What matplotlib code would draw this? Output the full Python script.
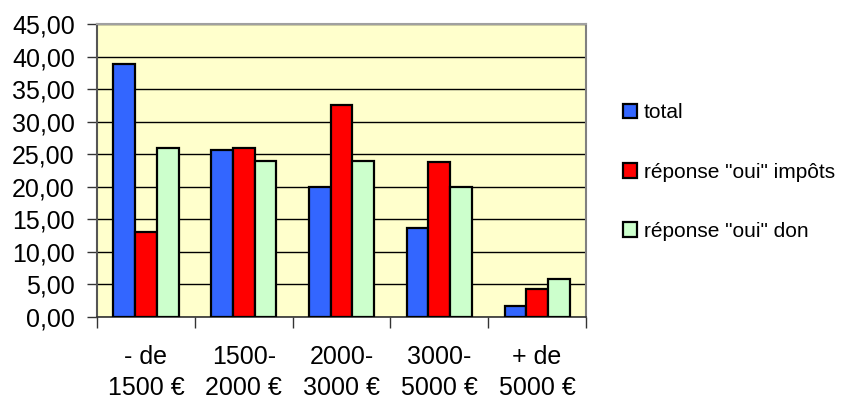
import matplotlib
matplotlib.use("Agg")
import matplotlib.pyplot as plt
from matplotlib.patches import Rectangle
import numpy as np

plt.rcParams['font.family'] = ['Liberation Sans', 'DejaVu Sans']

categories = ["- de\n1500 €", "1500-\n2000 €", "2000-\n3000 €", "3000-\n5000 €", "+ de\n5000 €"]
total = [38.8, 25.6, 20.0, 13.6, 1.7]
oui_impots = [13.0, 26.0, 32.5, 23.8, 4.3]
oui_don = [26.0, 23.9, 24.0, 20.0, 5.9]

series_names = ["total", 'réponse "oui" impôts', 'réponse "oui" don']
series_values = [total, oui_impots, oui_don]
series_colors = ["#3366FF", "#FF0000", "#CCFFCC"]

fig = plt.figure(figsize=(8.41, 3.96), dpi=100)
ax = fig.add_axes([97 / 841, 1 - 317 / 396, (586 - 97) / 841, (317 - 24) / 396])
ax.set_facecolor("#FFFFCC")

x = np.arange(len(categories))
w = 1 / 4.5
for i, (vals, col) in enumerate(zip(series_values, series_colors)):
    ax.bar(x + (i - 1) * w, vals, width=w, color=col, edgecolor="black",
           linewidth=1.6, zorder=3)

ax.set_xlim(-0.5, len(categories) - 0.5)
ax.set_ylim(0, 45)
yt = np.arange(0, 46, 5)
ax.set_yticks(yt)
ax.set_yticklabels([f"{v:.2f}".replace(".", ",") for v in yt], fontsize=18)
ax.yaxis.grid(True, color="black", linewidth=1.0, zorder=1)
ax.tick_params(axis="y", length=7, width=1, color="#333333", pad=9)

ax.set_xticks(x)
ax.set_xticklabels(categories, fontsize=18, linespacing=1.38)
ax.tick_params(axis="x", which="major", length=0, pad=20)
ax.set_xticks(np.arange(-0.5, len(categories), 1.0), minor=True)
ax.tick_params(axis="x", which="minor", length=8, width=1, color="#333333")

ax.spines["left"].set_color("#555555")
ax.spines["left"].set_linewidth(1.5)
ax.spines["bottom"].set_color("#333333")
ax.spines["bottom"].set_linewidth(1.2)
ax.spines["top"].set_color("#A0A0A0")
ax.spines["top"].set_linewidth(1.5)
ax.spines["right"].set_color("#808080")
ax.spines["right"].set_linewidth(1.5)

handles = [Rectangle((0, 0), 1, 1, facecolor=c, edgecolor="black", linewidth=1.6)
           for c in series_colors]
fig.legend(handles, series_names, loc="upper left", bbox_to_anchor=(614.5 / 841, 1 - 95 / 396),
           frameon=False, fontsize=15, handlelength=0.7, handleheight=0.7,
           handletextpad=0.3, labelspacing=1.93, borderaxespad=0)

fig.savefig("out.png", dpi=100, facecolor="white")
